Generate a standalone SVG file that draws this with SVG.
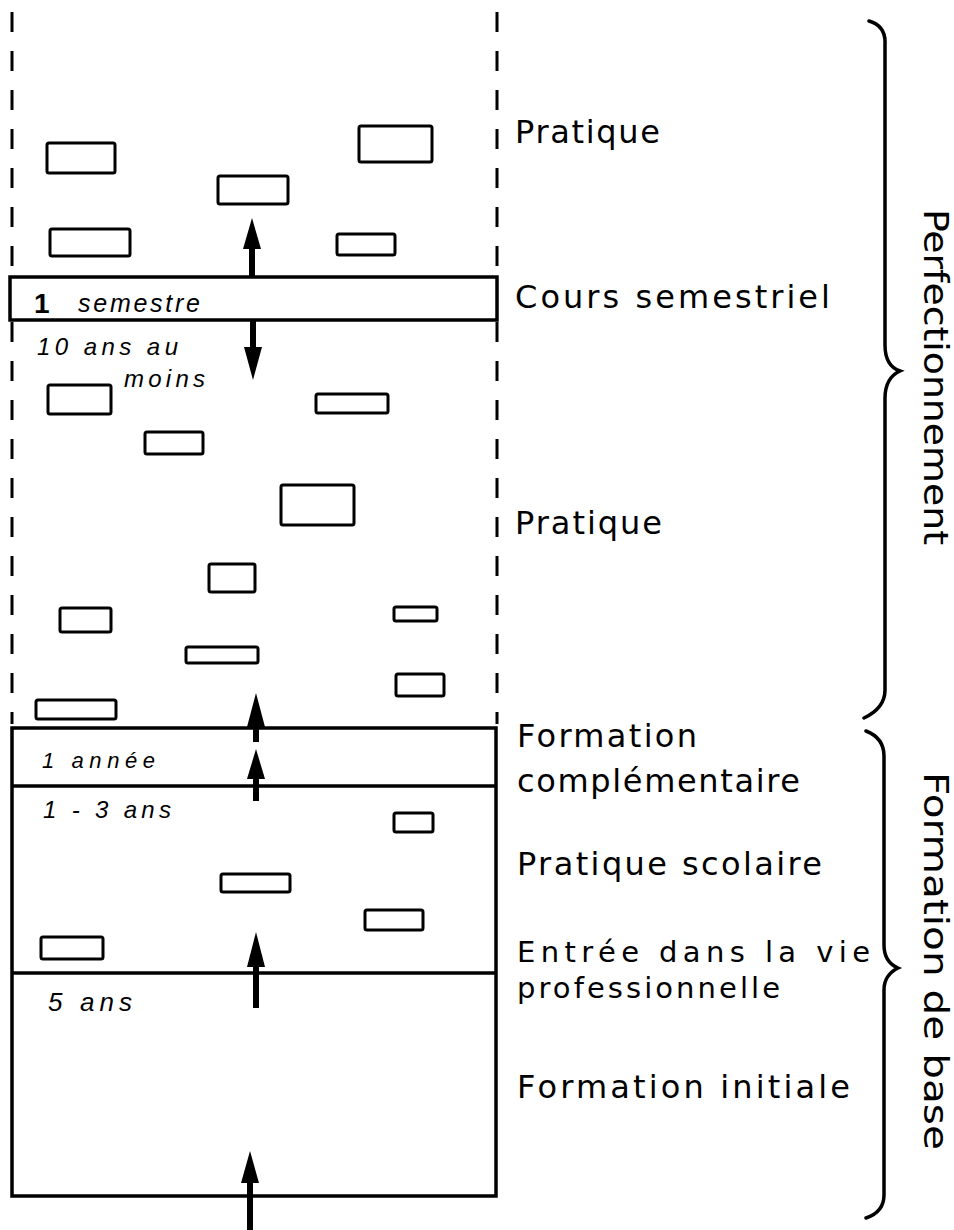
<svg xmlns="http://www.w3.org/2000/svg" width="954" height="1230" viewBox="0 0 954 1230">
<style>
.bx{fill:none;stroke:#000;stroke-width:3;}
.band{fill:none;stroke:#000;stroke-width:3.5;}
.dash{fill:none;stroke:#000;stroke-width:3;stroke-dasharray:20 19;}
.lbl{font-family:"DejaVu Sans","Liberation Sans",sans-serif;font-size:32px;fill:#000;}
.vl{font-family:"DejaVu Sans Condensed","DejaVu Sans",sans-serif;font-size:33px;fill:#000;}
.it{font-family:"Liberation Sans",Arial,sans-serif;font-style:italic;font-size:24px;fill:#000;}
.shaft{stroke:#000;stroke-width:6;fill:none;}
.head{fill:#000;stroke:none;}
.brace{fill:none;stroke:#000;stroke-width:3.5;stroke-linecap:round;}
</style>
<rect width="954" height="1230" fill="#fff"/>

<g id="frame">
  <line class="dash" x1="12" y1="12" x2="12" y2="277"/>
  <line class="dash" x1="12" y1="322" x2="12" y2="724"/>
  <line class="dash" x1="497" y1="12" x2="497" y2="277"/>
  <line class="dash" x1="497" y1="322" x2="497" y2="724"/>
</g>

<g id="cours-semestriel">
  <rect class="band" x="10" y="277" width="487" height="43"/>
  <text class="it" x="34" y="313" style="font-weight:bold;font-style:normal;font-size:28px">1</text>
  <text class="it" x="78" y="312" style="font-size:25px" textLength="122" lengthAdjust="spacing">semestre</text>
</g>

<g id="formation-base">
  <rect class="band" x="12" y="728" width="484" height="468"/>
  <line class="band" x1="12" y1="786" x2="496" y2="786"/>
  <line class="band" x1="12" y1="973" x2="496" y2="973"/>
  <text class="it" x="42" y="768" style="font-size:22px" textLength="113" lengthAdjust="spacing">1 année</text>
  <text class="it" x="43" y="818" textLength="128" lengthAdjust="spacing">1 - 3 ans</text>
  <text class="it" x="48" y="1011" style="font-size:26px" textLength="84" lengthAdjust="spacing">5 ans</text>
</g>

<g id="duree">
  <text class="it" x="37" y="355" textLength="141" lengthAdjust="spacing">10 ans au</text>
  <text class="it" x="124" y="387" textLength="81" lengthAdjust="spacing">moins</text>
</g>

<g id="postes">
  <rect class="bx" x="47" y="143" width="68" height="30" rx="2"/>
  <rect class="bx" x="218" y="176" width="70" height="28" rx="2"/>
  <rect class="bx" x="359" y="126" width="73" height="36" rx="2"/>
  <rect class="bx" x="50" y="229" width="80" height="27" rx="2"/>
  <rect class="bx" x="337" y="234" width="58" height="21" rx="2"/>
  <rect class="bx" x="48" y="385" width="63" height="29" rx="2"/>
  <rect class="bx" x="316" y="394" width="72" height="19" rx="2"/>
  <rect class="bx" x="145" y="432" width="58" height="22" rx="2"/>
  <rect class="bx" x="281" y="485" width="73" height="40" rx="2"/>
  <rect class="bx" x="209" y="564" width="46" height="28" rx="2"/>
  <rect class="bx" x="60" y="608" width="51" height="24" rx="2"/>
  <rect class="bx" x="394" y="607" width="43" height="14" rx="2"/>
  <rect class="bx" x="186" y="647" width="72" height="16" rx="2"/>
  <rect class="bx" x="396" y="674" width="48" height="22" rx="2"/>
  <rect class="bx" x="36" y="700" width="80" height="19" rx="2"/>
  <rect class="bx" x="394" y="813" width="39" height="19" rx="2"/>
  <rect class="bx" x="221" y="874" width="69" height="18" rx="2"/>
  <rect class="bx" x="365" y="910" width="58" height="20" rx="2"/>
  <rect class="bx" x="41" y="937" width="62" height="22" rx="2"/>
</g>

<g id="connectors">
  <line class="shaft" x1="252" y1="277" x2="252" y2="246"/>
  <polygon class="head" points="252,218 243,249 261,249"/>
  <line class="shaft" x1="253" y1="320" x2="253" y2="350"/>
  <polygon class="head" points="253,380 244,347 262,347"/>
  <line class="shaft" x1="256" y1="742" x2="256" y2="722"/>
  <polygon class="head" points="256,693 247,727 265,727"/>
  <line class="shaft" x1="256" y1="801" x2="256" y2="775"/>
  <polygon class="head" points="256,749 247,779 265,779"/>
  <line class="shaft" x1="256" y1="1008" x2="256" y2="962"/>
  <polygon class="head" points="256,932 247,967 265,967"/>
  <line class="shaft" x1="250" y1="1230" x2="250" y2="1178"/>
  <polygon class="head" points="250,1151 241,1183 259,1183"/>
</g>

<g id="labels">
  <text class="lbl" x="515" y="143" textLength="145" lengthAdjust="spacing">Pratique</text>
  <text class="lbl" x="515" y="308" textLength="315" lengthAdjust="spacing">Cours semestriel</text>
  <text class="lbl" x="515" y="534" textLength="147" lengthAdjust="spacing">Pratique</text>
  <text class="lbl" x="517" y="747" textLength="180" lengthAdjust="spacing">Formation</text>
  <text class="lbl" x="517" y="792" textLength="283" lengthAdjust="spacing">complémentaire</text>
  <text class="lbl" x="517" y="875" textLength="305" lengthAdjust="spacing">Pratique scolaire</text>
  <text class="lbl" x="517" y="962" style="font-size:29px" textLength="353" lengthAdjust="spacing">Entrée dans la vie</text>
  <text class="lbl" x="517" y="998" style="font-size:29px" textLength="263" lengthAdjust="spacing">professionnelle</text>
  <text class="lbl" x="517" y="1098" textLength="333" lengthAdjust="spacing">Formation  initiale</text>
</g>

<g id="perfectionnement">
  <path class="brace" d="M869,21 Q886,26 885,44 L885,345 Q885,366 900,371 Q885,378 885,398 L885,690 Q885,708 864,718"/>
  <text class="vl" transform="translate(924,209) rotate(90)" textLength="336" lengthAdjust="spacingAndGlyphs">Perfectionnement</text>
</g>

<g id="formation-de-base">
  <path class="brace" d="M866,731 Q884,738 884,756 L884,945 Q884,962 898,968 Q884,975 884,990 L884,1195 Q884,1212 866,1218"/>
  <text class="vl" transform="translate(924,772) rotate(90)" textLength="378" lengthAdjust="spacingAndGlyphs">Formation de base</text>
</g>
</svg>
